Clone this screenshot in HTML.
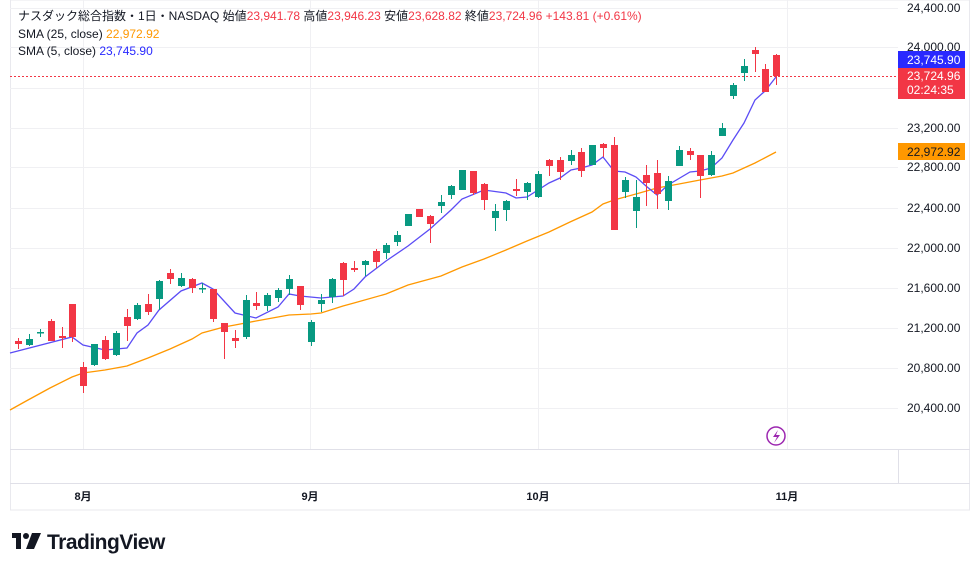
<!DOCTYPE html>
<html><head><meta charset="utf-8"><style>
html,body{margin:0;padding:0;background:#fff;width:980px;height:571px;overflow:hidden}
svg{display:block}
text{font-family:"Liberation Sans","Noto Sans CJK JP",sans-serif}
</style></head><body>
<svg id="s" width="980" height="571" xmlns="http://www.w3.org/2000/svg">
<rect x="10.5" y="0" width="959" height="510" fill="#fff" stroke="#e9e9ee"/>
<g stroke="#f0f0f3" stroke-width="1">
<line x1="10" x2="898" y1="8.5" y2="8.5"/><line x1="10" x2="898" y1="47.5" y2="47.5"/><line x1="10" x2="898" y1="88.5" y2="88.5"/><line x1="10" x2="898" y1="128.5" y2="128.5"/><line x1="10" x2="898" y1="167.5" y2="167.5"/><line x1="10" x2="898" y1="208.5" y2="208.5"/><line x1="10" x2="898" y1="248.5" y2="248.5"/><line x1="10" x2="898" y1="288.5" y2="288.5"/><line x1="10" x2="898" y1="328.5" y2="328.5"/><line x1="10" x2="898" y1="368.5" y2="368.5"/><line x1="10" x2="898" y1="408.5" y2="408.5"/>
<line x1="83.5" x2="83.5" y1="0" y2="449"/><line x1="310.5" x2="310.5" y1="0" y2="449"/><line x1="538.5" x2="538.5" y1="0" y2="449"/><line x1="787.5" x2="787.5" y1="0" y2="449"/>
</g>
<line x1="10" x2="970" y1="449.5" y2="449.5" stroke="#e0e0e8"/>
<line x1="10" x2="970" y1="483.5" y2="483.5" stroke="#e0e0e8"/>
<line x1="898.5" x2="898.5" y1="449" y2="483" stroke="#e0e0e8"/>
<g font-size="12" fill="#131722">
<text x="907" y="12">24,400.00</text><text x="907" y="51">24,000.00</text><text x="907" y="132">23,200.00</text><text x="907" y="171">22,800.00</text><text x="907" y="212">22,400.00</text><text x="907" y="252">22,000.00</text><text x="907" y="292">21,600.00</text><text x="907" y="332">21,200.00</text><text x="907" y="372">20,800.00</text><text x="907" y="412">20,400.00</text>
</g>
<g font-size="11" fill="#131722" font-weight="bold" text-anchor="middle">
<text x="83" y="500">8月</text><text x="310" y="500">9月</text><text x="538" y="500">10月</text><text x="787" y="500">11月</text>
</g>
<line x1="10" x2="898" y1="76.5" y2="76.5" stroke="#f23645" stroke-dasharray="2,2"/>
<polyline fill="none" stroke="#ff9800" stroke-width="1.3" points="10,410 28,400 50,388 72,377 83,373 105,370 127,366 148,358 170,349 192,339 202,333 224,327 235,325 256,321 278,317 289,315 311,314 321,313 343,306 354,303 386,294 408,285 419,282 441,276 462,267 484,259 506,250 527,241 549,232 570,222 592,212 603,204 614,200 636,194 657,188 679,184 700,180 722,176 733,173 744,168 755,163 776,152"/>
<polyline fill="none" stroke="#5b4cf5" stroke-width="1.3" points="10,353 72,337 83,345 105,350 127,348 137,333 148,325 159,310 181,291 202,283 213,289 235,313 256,318 278,307 289,294 300,296 321,298 343,296 354,289 365,277 386,261 408,246 430,229 451,210 462,199 484,190 506,193 516,198 527,197 538,190 549,183 560,178 571,170 581,168 592,165 603,157 614,171 625,172 636,177 646,186 657,195 668,185 690,172 700,171 711,168 722,158 733,140 744,123 755,100 765,91 776,77"/>
<g id="c"></g>
<rect x="898" y="51" width="67" height="17" fill="#2929ff"/><text x="907" y="64" font-size="12" fill="#fff">23,745.90</text>
<rect x="898" y="68" width="67" height="31" fill="#f23645"/><text x="907" y="80" font-size="12" fill="#fff">23,724.96</text><text x="907" y="94" font-size="12" fill="#fff">02:24:35</text>
<rect x="898" y="143" width="67" height="17" fill="#ff9800"/><text x="907" y="156" font-size="12" fill="#131722">22,972.92</text>
<circle cx="776" cy="436" r="9" fill="none" stroke="#9c27b0" stroke-width="1.5"/>
<path d="M778 430 L773 437 L777 437 L774 443 L780 435 L776 435 Z" fill="#9c27b0"/>
<g font-size="12">
<text x="18" y="20" fill="#131722">ナスダック総合指数・1日・NASDAQ 始値<tspan fill="#f23645">23,941.78</tspan> 高値<tspan fill="#f23645">23,946.23</tspan> 安値<tspan fill="#f23645">23,628.82</tspan> 終値<tspan fill="#f23645">23,724.96 +143.81 (+0.61%)</tspan></text>
<text x="18" y="38" fill="#131722">SMA (25, close) <tspan fill="#ff9800">22,972.92</tspan></text>
<text x="18" y="55" fill="#131722">SMA (5, close) <tspan fill="#2929ff">23,745.90</tspan></text>
</g>
<rect x="12" y="533" width="9" height="5" fill="#131722"/><rect x="16" y="533" width="5" height="16" fill="#131722"/><circle cx="26" cy="536" r="3" fill="#131722"/><path d="M32 533 L41 533 L34 549 L26 549 Z" fill="#131722"/>
<text x="47" y="549" font-size="21" font-weight="bold" fill="#131722" letter-spacing="-0.5">TradingView</text>
</svg>
<script>
var d=[[18,338,349,341,344,0],[29,334,346,339,345,1],[40,329,337,332,333,1],[51,319,341,321,341,0],[62,327,348,336,338,0],[72,304,342,304,337,0],[83,362,393,367,386,0],[94,344,366,344,365,1],[105,336,360,340,359,0],[116,331,356,333,355,1],[127,309,341,317,326,0],[137,303,320,305,319,1],[148,294,315,304,312,0],[159,280,310,281,299,1],[170,269,284,273,279,0],[181,273,287,278,286,1],[192,278,293,279,288,0],[202,283,293,288,289,1],[213,289,322,289,319,0],[224,323,359,323,332,0],[235,330,348,338,341,0],[246,295,339,300,337,1],[256,292,310,303,306,0],[267,293,311,295,306,1],[278,288,302,290,298,1],[289,275,295,279,289,1],[300,286,310,286,305,0],[311,320,346,322,342,1],[321,294,312,300,304,1],[332,278,303,279,297,1],[343,262,296,263,280,0],[354,261,272,268,270,0],[365,260,276,261,265,1],[376,249,268,251,262,0],[386,243,259,245,253,1],[397,231,246,235,242,1],[408,214,226,214,226,1],[419,209,217,209,217,0],[430,215,243,216,224,0],[441,195,213,202,206,1],[451,185,199,186,195,1],[462,170,190,170,190,1],[473,171,195,171,193,0],[484,183,210,184,200,0],[495,204,231,211,218,1],[506,200,221,201,210,1],[516,179,196,189,191,0],[527,182,200,183,192,1],[538,171,198,174,197,1],[549,159,176,160,166,0],[560,157,180,160,172,0],[571,150,165,155,161,1],[581,148,177,152,171,0],[592,145,165,145,165,1],[603,143,157,144,148,0],[614,137,230,145,230,0],[625,177,198,180,192,1],[636,180,228,197,211,1],[646,165,206,175,183,0],[657,160,209,173,194,0],[668,176,210,181,201,1],[679,146,166,150,166,1],[690,148,160,151,155,0],[700,155,198,155,176,0],[711,151,176,155,175,1],[722,123,136,128,136,1],[733,83,99,85,96,1],[744,59,81,66,73,1],[755,47,72,50,54,0],[765,64,92,69,92,0],[776,54,85,55,76,0]];
var g=document.getElementById('c'),h='';
d.forEach(function(c){var col=c[5]?'#089981':'#f23645';
h+='<line x1="'+(c[0]+.5)+'" x2="'+(c[0]+.5)+'" y1="'+c[1]+'" y2="'+c[2]+'" stroke="'+col+'"/>';
var bh=Math.max(c[4]-c[3],1.5);h+='<rect x="'+(c[0]-3)+'" y="'+c[3]+'" width="7" height="'+bh+'" fill="'+col+'"/>';});
g.innerHTML=h;
</script>
</body></html>
